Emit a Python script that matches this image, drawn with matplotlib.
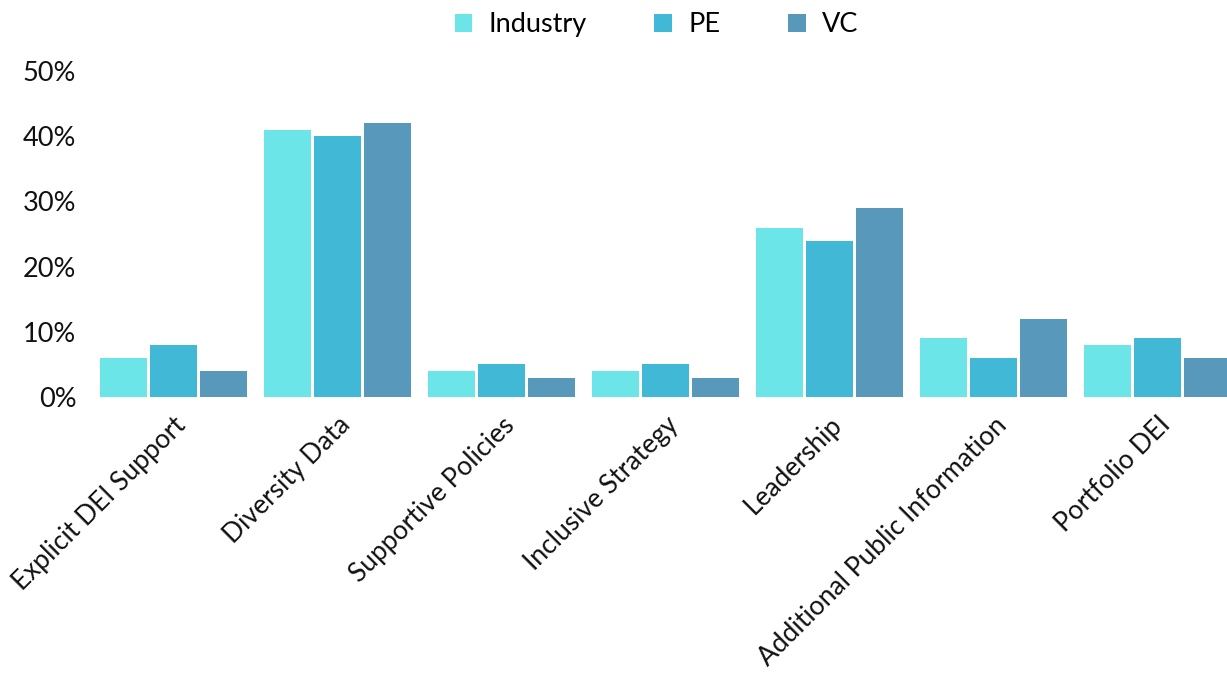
import matplotlib.pyplot as plt
import numpy as np
from matplotlib.ticker import PercentFormatter

plt.rcParams['font.family'] = ['Lato', 'DejaVu Sans']

categories = ["Explicit DEI Support", "Diversity Data", "Supportive Policies",
              "Inclusive Strategy", "Leadership", "Additional Public Information",
              "Portfolio DEI"]
industry = [6, 41, 4, 4, 26, 9, 8]
pe = [8, 40, 5, 5, 24, 6, 9]
vc = [4, 42, 3, 3, 29, 12, 6]
series = {"Industry": industry, "PE": pe, "VC": vc}
colors = ["#6ce5e8", "#41b8d5", "#5898ba"]

fig = plt.figure(figsize=(12.27, 6.73), dpi=100)
ax = fig.add_axes([0.0746, 0.410, 0.9356, 0.4845])

x = np.arange(len(categories))
step = 0.305
width = 0.287
for i, (name, vals) in enumerate(series.items()):
    ax.bar(x + (i - 1) * step, np.array(vals) / 100, width, color=colors[i],
           label=name)

ax.set_xlim(-0.5, len(categories) - 0.5)
ax.set_ylim(0, 0.5)
ax.set_yticks(np.arange(0, 0.51, 0.1))
ax.yaxis.set_major_formatter(PercentFormatter(1.0, decimals=0))
ax.set_xticks(x)
ax.set_xticklabels(categories, rotation=45, ha='right', rotation_mode='anchor')
ax.tick_params(axis='both', length=0, labelsize=19.5, colors='#111111')
ax.tick_params(axis='x', labelsize=19, pad=11)
ax.tick_params(axis='y', pad=11)
for s in ax.spines.values():
    s.set_visible(False)

fig.legend(loc='upper center', bbox_to_anchor=(0.535, 1.018), ncol=3, frameon=False,
           fontsize=19.5, handlelength=0.65, handleheight=0.65, handletextpad=0.6,
           columnspacing=2.5)

fig.savefig("out.png", dpi=100)
